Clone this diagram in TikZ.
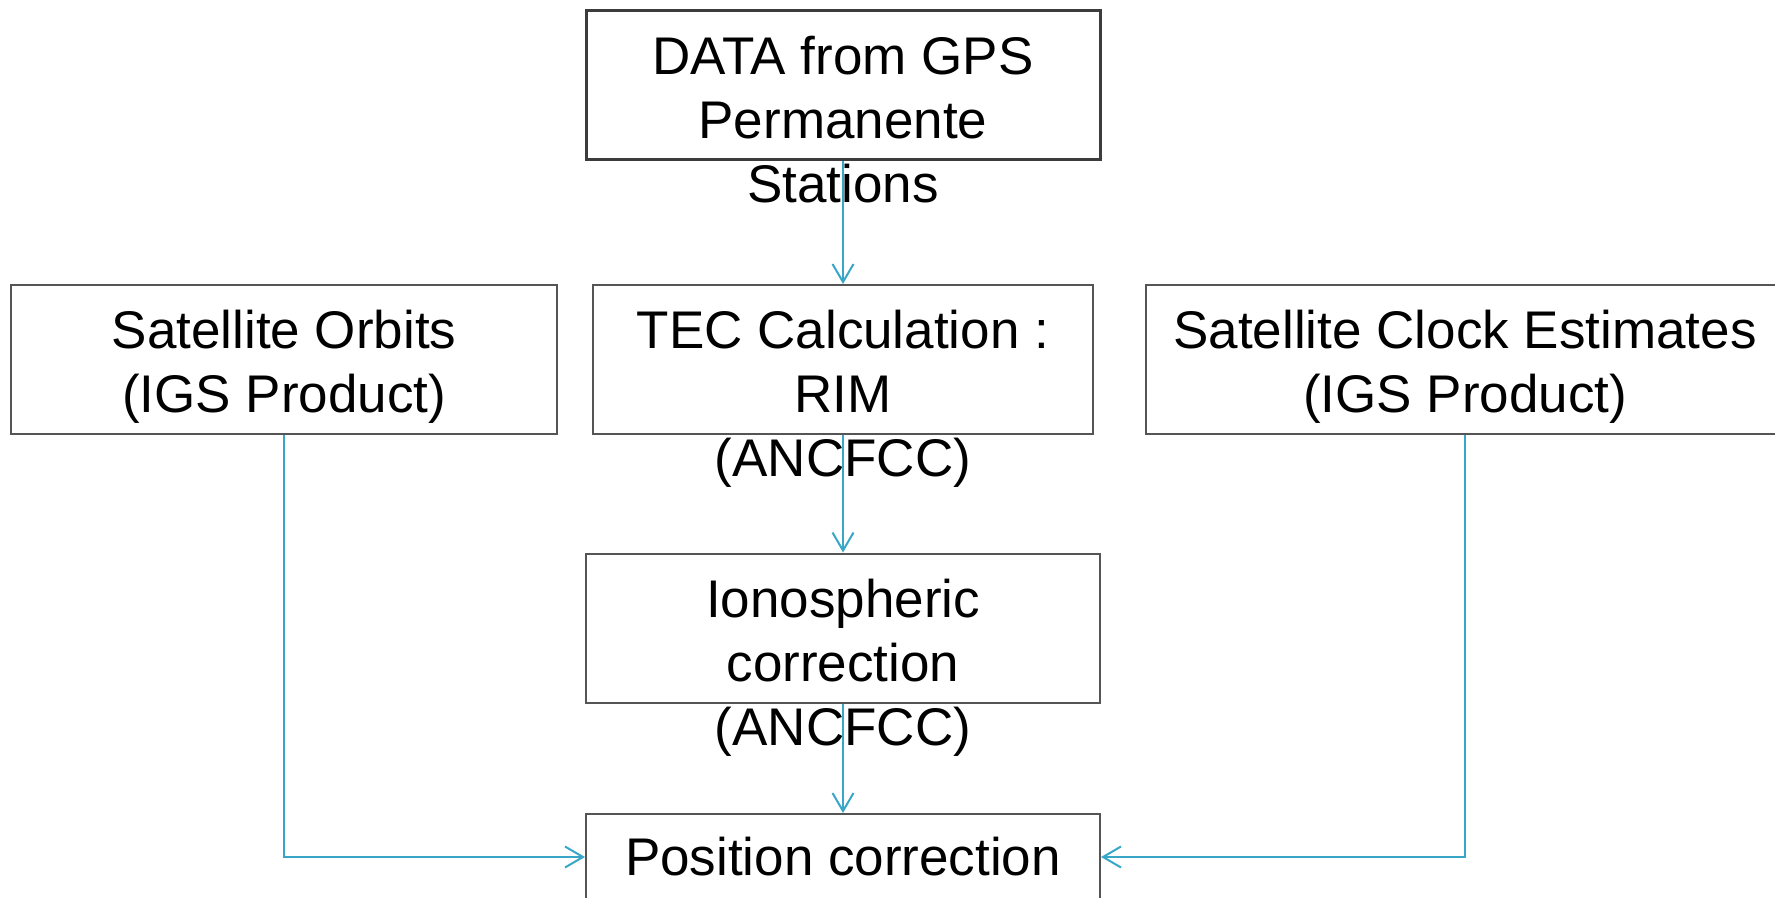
\documentclass[tikz,border=0pt]{standalone}
\usepackage{fontspec}
\setmainfont{Liberation Sans}
\usetikzlibrary{arrows.meta}
\definecolor{linkblue}{RGB}{56,167,199}
\definecolor{boxgray}{RGB}{85,85,85}
\definecolor{topgray}{RGB}{60,60,60}

\begin{document}
\begin{tikzpicture}[x=0.5pt,y=0.5pt,yscale=-1,xscale=1,
        box/.style={draw=boxgray, line width=1pt, rectangle, inner sep=0pt, minimum height=74.5pt},
        txt/.style={anchor=north, inner sep=0pt, align=center, font=\fontsize{26.5}{32}\selectfont},
        link/.style={draw=linkblue, line width=1pt, -{Straight Barb[length=9pt,width=10.5pt]}}]
        \useasboundingbox (0,0) rectangle (1775,898);
        
        %Shape: Rectangle [data]
        \node [box, draw=topgray, line width=1.5pt, minimum width=257pt] (dataBox) at (843,85.5) {};
        %Shape: Rectangle [tec]
        \node [box, minimum width=250pt] (tecBox) at (843,359.5) {};
        %Shape: Rectangle [orbits]
        \node [box, minimum width=273pt] (orbitBox) at (284,359.5) {};
        %Shape: Rectangle [clock]
        \node [box, minimum width=319pt] (clockBox) at (1465,359.5) {};
        %Shape: Rectangle [iono]
        \node [box, minimum width=257pt] (ionoBox) at (843,628) {};
        %Shape: Rectangle [position]
        \node [box, minimum width=257pt, minimum height=43pt, inner sep=0pt, font=\fontsize{26.5}{32}\selectfont] (posBox) at (843,857) {Position correction};
        
        % Text Node
        \node [txt] (dataTxt) at (843,36) {DATA from GPS\\Permanente\\Stations};
        % Text Node
        \node [txt] (tecTxt) at (843,310) {TEC Calculation :\\RIM\\(ANCFCC)};
        % Text Node
        \node [txt] (orbitTxt) at (284,310) {Satellite Orbits\\(IGS Product)};
        % Text Node
        \node [txt] (clockTxt) at (1465,310) {Satellite Clock Estimates\\(IGS Product)};
        % Text Node
        \node [txt] (ionoTxt) at (843,579) {Ionospheric\\correction\\(ANCFCC)};
        
        %Straight Lines
        \draw [link] (dataBox.south) -- (tecBox.north);
        \draw [link] (tecBox.south) -- (ionoBox.north);
        \draw [link] (ionoBox.south) -- (posBox.north);
        \draw [link] (orbitBox.south) |- (posBox.west);
        \draw [link] (clockBox.south) |- (posBox.east);
        
\end{tikzpicture}
\end{document}
